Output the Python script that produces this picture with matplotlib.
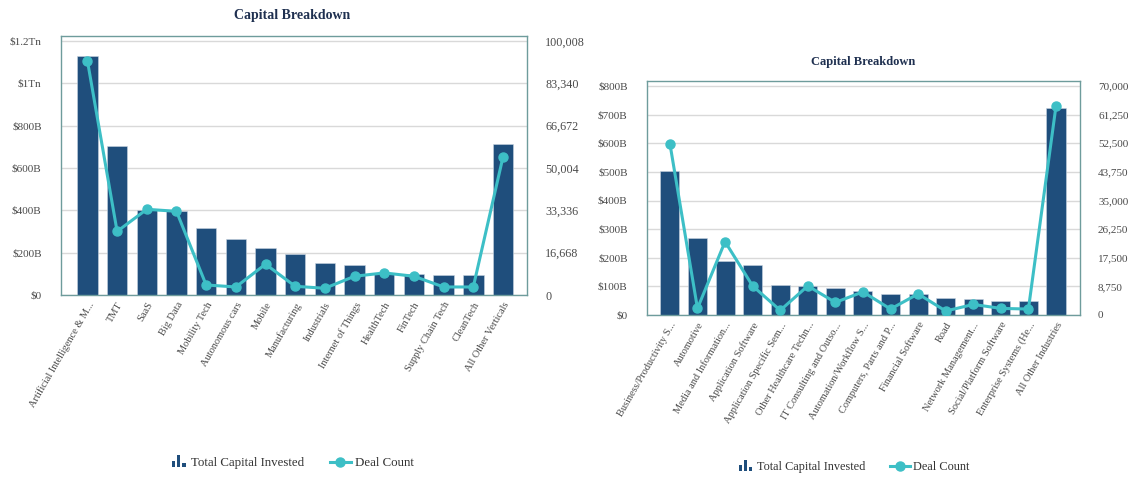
import matplotlib
matplotlib.use("Agg")
import matplotlib.pyplot as plt
from matplotlib.legend_handler import HandlerBase
from matplotlib.patches import Rectangle
from matplotlib.lines import Line2D
import numpy as np

plt.rcParams['font.family'] = ['Liberation Serif', 'DejaVu Serif']

# ---------------- data ----------------
cats1 = ["Artificial Intelligence & M...", "TMT", "SaaS", "Big Data", "Mobility Tech",
         "Autonomous cars", "Mobile", "Manufacturing", "Industrials", "Internet of Things",
         "HealthTech", "FinTech", "Supply Chain Tech", "CleanTech", "All Other Verticals"]
capital1 = [1129, 705, 402, 395, 316, 266, 223, 196, 152, 142, 104, 101, 95, 95, 715]  # $B
deals1 = [92250, 25040, 33740, 32950, 3950, 3160, 12125, 3430, 2640, 7380, 8700, 7380, 3160, 3160, 54300]
yticks1 = [0, 200, 400, 600, 800, 1000, 1200]
yticklabels1 = ["$0", "$200B", "$400B", "$600B", "$800B", "$1Tn", "$1.2Tn"]
rticks1 = [0, 16668, 33336, 50004, 66672, 83340, 100008]
rticklabels1 = ["0", "16,668", "33,336", "50,004", "66,672", "83,340", "100,008"]

cats2 = ["Business/Productivity S...", "Automotive", "Media and Information...",
         "Application Software", "Application Specific Sem...", "Other Healthcare Techn...",
         "IT Consulting and Outso...", "Automation/Workflow S...", "Computers, Parts and P...",
         "Financial Software", "Road", "Network Management...", "Social/Platform Software",
         "Enterprise Systems (He...", "All Other Industries"]
capital2 = [503, 269, 189, 174, 104, 102, 95, 84, 74, 74, 60, 57, 50, 50, 723]  # $B
deals2 = [52420, 2020, 22420, 8890, 1414, 8890, 3840, 7070, 1820, 6460, 1210, 3230, 2020, 1820, 63930]
yticks2 = [0, 100, 200, 300, 400, 500, 600, 700, 800]
yticklabels2 = ["$0", "$100B", "$200B", "$300B", "$400B", "$500B", "$600B", "$700B", "$800B"]
rticks2 = [0, 8750, 17500, 26250, 35000, 43750, 52500, 61250, 70000]
rticklabels2 = ["0", "8,750", "17,500", "26,250", "35,000", "43,750", "52,500", "61,250", "70,000"]

title = "Capital Breakdown"
legend_labels = ["Total Capital Invested", "Deal Count"]

# ---------------- style ----------------
BAR = "#1F4E7C"
LINE = "#3DBFC6"
FRAME = "#6E9C9C"
GRID = "#D9D9D9"
TXT = "#4A4A4A"
TITLE = "#1F3050"

W, H = 1128, 484
fig = plt.figure(figsize=(W / 100, H / 100), dpi=100)


class BarIconHandler(HandlerBase):
    def create_artists(self, legend, orig_handle, xdescent, ydescent, width, height, fontsize, trans):
        arts = []
        bw = width * 0.17
        hs = [0.75, 1.35, 0.45]
        x0 = width * 0.25
        y0 = -ydescent - height * 0.15
        for i, h in enumerate(hs):
            r = Rectangle((x0 + i * bw * 1.5 - xdescent, y0), bw, height * h,
                          facecolor=BAR, edgecolor='none', transform=trans)
            arts.append(r)
        return arts


def draw(rect, cats, cap, deals, yt, ytl, rt, rtl, ytop, xl, rpad_l, rpad_r, rsize):
    ax = fig.add_axes(rect)
    x = np.arange(len(cats))
    ax.set_axisbelow(True)
    ax.yaxis.grid(True, color=GRID, linewidth=1.0)
    ax.bar(x, cap, width=0.69, color=BAR, edgecolor="#C8D4E0", linewidth=0.4, zorder=2)
    ax.set_ylim(0, ytop)
    ax.set_xlim(*xl)
    ax.set_yticks(yt)
    ax.set_yticklabels(ytl)
    ax.set_xticks(x)
    ax.set_xticklabels(cats, rotation=60, ha='right', rotation_mode='anchor')
    ax.tick_params(axis='x', length=0, pad=4, labelsize=7.5, labelcolor=TXT)
    ax.tick_params(axis='y', length=0, pad=rpad_l, labelsize=8, labelcolor=TXT)
    for s in ax.spines.values():
        s.set_color(FRAME)
        s.set_linewidth(1.0)

    ax2 = ax.twinx()
    ax2.plot(x, deals, color=LINE, linewidth=2.2, marker='o', markersize=6.5, zorder=5)
    ax2.set_ylim(0, ytop / yt[-1] * rt[-1])
    ax2.set_yticks(rt)
    ax2.set_yticklabels(rtl)
    ax2.tick_params(axis='y', length=0, pad=rpad_r, labelsize=rsize, labelcolor=TXT)
    for s in ax2.spines.values():
        s.set_visible(False)
    for lab in ax2.get_yticklabels():
        lab.set_ha('left')
    return ax, ax2


ax1 = [61 / W, (H - 295) / H, (527 - 61) / W, (295 - 36) / H]
draw(ax1, cats1, capital1, deals1, yticks1, yticklabels1, rticks1, rticklabels1,
     1200 * 259 / 254, (-0.89, 14.81), 14, 13, 8.7)

ax2r = [647 / W, (H - 315) / H, (1080 - 647) / W, (315 - 81) / H]
draw(ax2r, cats2, capital2, deals2, yticks2, yticklabels2, rticks2, rticklabels2,
     800 * 234 / 229, (-0.83, 14.87), 14, 13, 8)

fig.text(292 / W, 1 - 16 / H, title, ha='center', va='center', fontsize=10,
         fontweight='bold', color=TITLE)
fig.text(863 / W, 1 - 62 / H, title, ha='center', va='center', fontsize=9,
         fontweight='bold', color=TITLE)

bar_handle = Rectangle((0, 0), 1, 1, facecolor=BAR)
line_handle = Line2D([], [], color=LINE, linewidth=2.2, marker='o', markersize=6.5)

for cx, cy, fs in [(290 / W, 1 - 463 / H, 9.3), (852 / W, 1 - 467 / H, 8.8)]:
    fig.legend([bar_handle, line_handle], legend_labels, loc='center',
               bbox_to_anchor=(cx, cy), ncol=2, frameon=False, fontsize=fs,
               handler_map={Rectangle: BarIconHandler()}, handlelength=1.6,
               columnspacing=2.0, handletextpad=0.3, labelcolor="#333333")

fig.savefig("out.png", dpi=100, facecolor='white')
